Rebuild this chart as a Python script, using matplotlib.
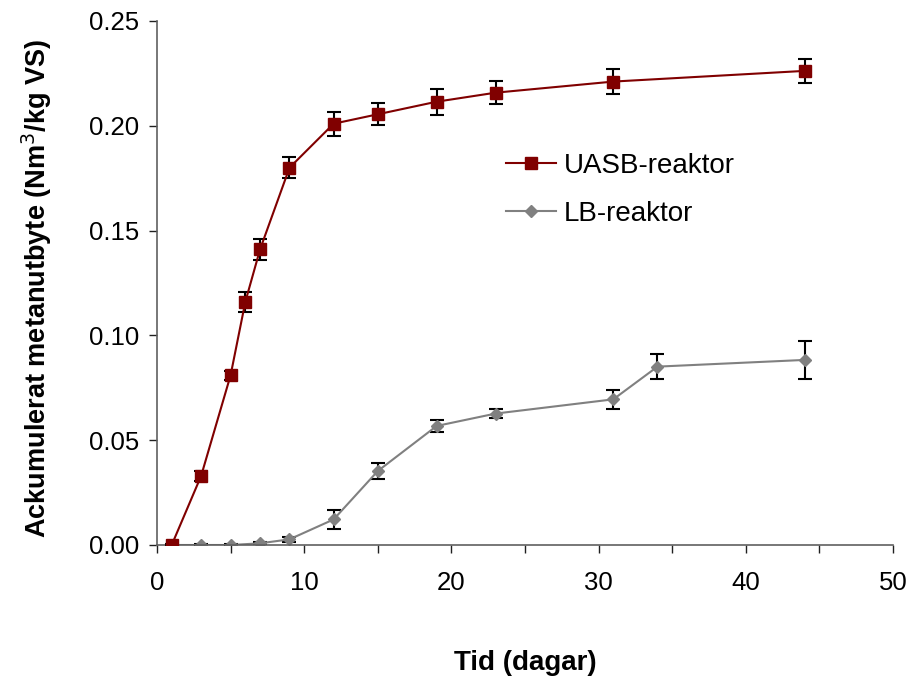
import matplotlib.pyplot as plt
from matplotlib.ticker import MultipleLocator, FormatStrFormatter

plt.rcParams['font.family'] = ['Liberation Sans', 'DejaVu Sans']

# Data
days_uasb = [1, 3, 5, 6, 7, 9, 12, 15, 19, 23, 31, 44]
uasb = [0.000, 0.033, 0.081, 0.116, 0.141, 0.180, 0.201, 0.2055, 0.2115, 0.2158, 0.2211, 0.2262]
uasb_err = [0.0005, 0.0025, 0.0022, 0.0047, 0.005, 0.005, 0.0057, 0.0052, 0.0062, 0.0055, 0.006, 0.0056]

days_lb = [1, 3, 5, 7, 9, 12, 15, 19, 23, 31, 34, 44]
lb = [0.000, 0.000, 0.000, 0.0008, 0.0027, 0.0122, 0.0353, 0.0568, 0.0627, 0.0695, 0.0851, 0.0883]
lb_err = [0.0003, 0.0003, 0.0003, 0.0005, 0.0012, 0.0047, 0.004, 0.0027, 0.0023, 0.0045, 0.0061, 0.009]

fig = plt.figure(figsize=(9.1, 6.78), dpi=100)
ax = fig.add_axes([157 / 910, 1 - 545 / 678, (893 - 157) / 910, (545 - 21) / 678])

ax.errorbar(days_uasb, uasb, yerr=uasb_err, color='#800000', marker='s', markersize=8,
            linewidth=1.5, ecolor='black', elinewidth=1.5, capsize=4.7, capthick=1.5,
            label='UASB-reaktor', zorder=3)
ax.errorbar(days_lb, lb, yerr=lb_err, color='#808080', marker='D', markersize=6.5,
            linewidth=1.5, ecolor='black', elinewidth=1.5, capsize=4.7, capthick=1.5,
            label='LB-reaktor', zorder=2)

ax.set_xlim(0, 50)
ax.set_ylim(0, 0.25)
ax.xaxis.set_major_locator(MultipleLocator(10))
ax.xaxis.set_minor_locator(MultipleLocator(5))
ax.yaxis.set_major_locator(MultipleLocator(0.05))
ax.yaxis.set_major_formatter(FormatStrFormatter('%.2f'))

for s in ['top', 'right']:
    ax.spines[s].set_visible(False)
for s in ['left', 'bottom']:
    ax.spines[s].set_color('#606060')
    ax.spines[s].set_linewidth(1.2)

ax.tick_params(axis='both', which='both', direction='out', length=6, width=1.0,
               color='#202020', labelsize=18.5)
ax.tick_params(axis='x', pad=13)
ax.tick_params(axis='y', pad=7)

ax.set_xlabel('Tid (dagar)', fontsize=20, fontweight='bold')
ax.xaxis.set_label_coords(0.5, -0.2)
ax.set_ylabel('Ackumulerat metanutbyte (Nm$^{3}$/kg VS)', fontsize=19.5, fontweight='bold')
ax.yaxis.set_label_coords(-0.14, 0.49)

handles, labels = ax.get_legend_handles_labels()
handles = [h[0] for h in handles]
ax.legend(handles, labels, loc='center left', bbox_to_anchor=(0.474, 0.678), frameon=False,
          fontsize=20, handlelength=1.8, labelspacing=0.8, handletextpad=0.3,
          borderaxespad=0, borderpad=0)

plt.savefig('out.png', dpi=100)
plt.close()
